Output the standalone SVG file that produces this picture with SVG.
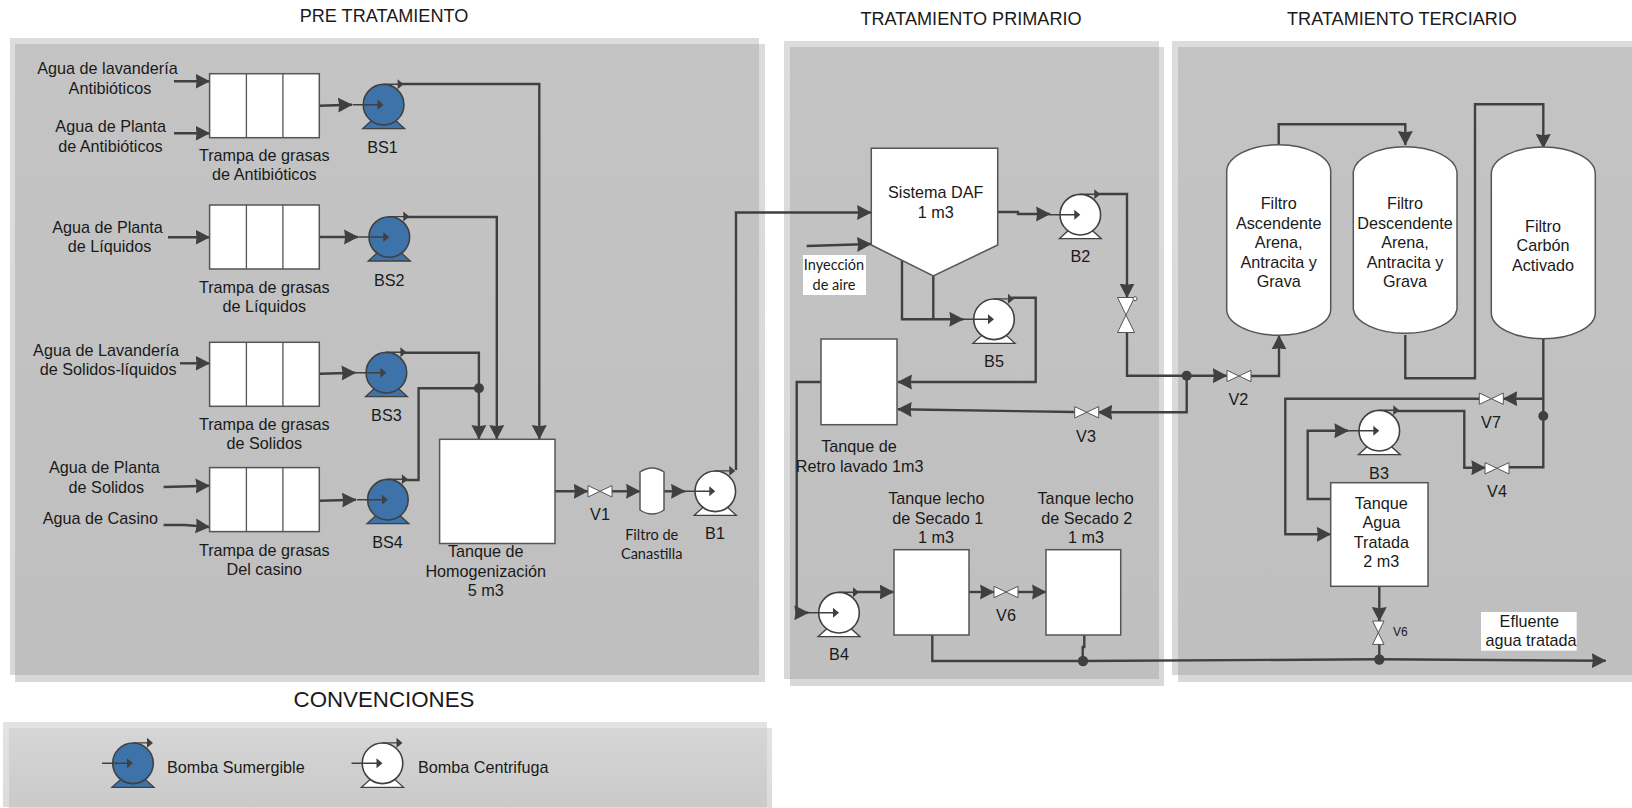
<svg xmlns="http://www.w3.org/2000/svg" width="1632" height="808" viewBox="0 0 1632 808">
<style>
text{font-family:"Liberation Sans",Arial,sans-serif;font-size:16.2px;fill:#1a1a1a;text-anchor:middle}
.c{font-family:Lato,"Open Sans",sans-serif;font-size:14.5px}
.t{font-size:18.1px}
.box{fill:#fff;stroke:#555;stroke-width:1.5}
.p{fill:none;stroke:#404040;stroke-width:2.4;stroke-linejoin:miter}
.a{marker-end:url(#big)}
.d{fill:#404040}
.v{fill:#fff;stroke:#555;stroke-width:1}
.lab{fill:#fff}
</style>
<defs>
<linearGradient id="pg" x1="0" y1="0" x2="0" y2="1"><stop offset="0" stop-color="#8e8e8e" stop-opacity=".31"/><stop offset="1" stop-color="#939393" stop-opacity=".36"/></linearGradient>
<linearGradient id="lg" x1="0" y1="0" x2="0" y2="1"><stop offset="0" stop-color="#cbcbcb" stop-opacity=".54"/><stop offset="1" stop-color="#b8b8b8" stop-opacity=".5"/></linearGradient>
<marker id="big" markerUnits="userSpaceOnUse" markerWidth="15" markerHeight="15.5" viewBox="0 0 14 14" refX="13" refY="7" orient="auto"><path d="M0 0L13.5 7L0 14L1 7Z" fill="#404040"/></marker>
<g id="pb"><path d="M-21 24L-10 14H10L21 24Z" fill="#3e73a9" stroke="#404040" stroke-width="1.3"/><circle r="20.3" fill="#3e73a9" stroke="#404040" stroke-width="1.6"/><path d="M-31 0H-4M0-20.4H15" fill="none" stroke="#404040" stroke-width="1.4"/><path d="M-6-5L0 0L-6 5ZM14-25.5L20-20.4L14-15.5Z" fill="#404040"/></g>
<g id="pw"><path d="M-21 24L-10 14H10L21 24Z" fill="#fff" stroke="#404040" stroke-width="1.3"/><circle r="20.3" fill="#fff" stroke="#404040" stroke-width="1.6"/><path d="M-31 0H-4M0-20.4H15" fill="none" stroke="#404040" stroke-width="1.4"/><path d="M-6-5L0 0L-6 5ZM14-25.5L20-20.4L14-15.5Z" fill="#404040"/></g>
<path id="vh" class="v" d="M-12-5.7L12 5.7V-5.7L-12 5.7Z"/>
<path id="vv" class="v" d="M-8.5-17.5H8.5L-8.5 17.5H8.5Z"/>
<path id="vs" class="v" d="M-5.7-11.7H5.7L-5.7 11.7H5.7Z"/>
<g id="trap"><rect class="box" x="0" y="0" width="109.7" height="64" stroke-width="1.2"/><path d="M36.8 0V64M73.3 0V64" stroke="#555" stroke-width="1.3"/></g>
</defs>

<g id="panels">
<rect x="10" y="38" width="749" height="637" fill="url(#pg)"/><rect x="15" y="44" width="750" height="638" fill="url(#pg)"/>
<rect x="784" y="41" width="375" height="638" fill="url(#pg)"/><rect x="790" y="47" width="374" height="639" fill="url(#pg)"/>
<rect x="1172" y="41" width="470" height="634" fill="url(#pg)"/><rect x="1178" y="47" width="464" height="635" fill="url(#pg)"/>
<rect x="3" y="722" width="764" height="85" fill="url(#lg)"/><rect x="9" y="728" width="763" height="84" fill="url(#lg)"/>
</g>

<g id="titles">
<text class="t" x="384" y="22">PRE TRATAMIENTO</text>
<text class="t" x="971" y="25">TRATAMIENTO PRIMARIO</text>
<text class="t" x="1402" y="25">TRATAMIENTO TERCIARIO</text>
<text x="384" y="706.5" style="font-size:22.3px">CONVENCIONES</text>
</g>

<g id="connectors">
<path class="p a" d="M174 81.3H209.5"/>
<path class="p a" d="M174 133.3H209.5"/>
<path class="p a" d="M168 237.3H209.5"/>
<path class="p a" d="M180 363.3H209.5"/>
<path class="p a" d="M163.6 487L209.5 485.7"/>
<path class="p a" d="M163.6 525H185L209.5 527"/>
<path class="p a" d="M319 105.7L352 104.7"/>
<path class="p a" d="M320 237H358"/>
<path class="p a" d="M320 373.7L355.5 372.7"/>
<path class="p a" d="M320 500.7L356 499.7"/>
<path class="p a" d="M400 84H539.3V439"/>
<path class="p a" d="M405 217H496.8V439"/>
<path class="p a" d="M403 352.7H478.9V439"/>
<path class="p" d="M404 480H418.6V388.3H478.9"/>
<circle class="d" cx="478.9" cy="388.3" r="5"/>
<path class="p a" d="M555 491.3H587.7"/>
<path class="p a" d="M611.7 491.3H640"/>
<path class="p a" d="M664 491.3H685"/>
<path class="p a" d="M736 470V212.5H871"/>
<path class="p a" d="M806.7 246L871 244"/>
<path class="p a" d="M997.7 212H1018V214H1050"/>
<path class="p a" d="M1098 194H1127V297.5"/>
<path class="p" d="M1127 333V375.7H1186.7"/>
<path class="p a" d="M1186.7 375.7H1226.7"/>
<path class="p a" d="M1186.7 375.7V412.3H1098.3"/>
<path class="p a" d="M1075 412L897.7 409.3"/>
<path class="p a" d="M902 260V319.3H963.3"/>
<path class="p" d="M933.3 276V319.3"/>
<path class="p a" d="M1012 297.7H1035.7V382H898"/>
<path class="p a" d="M821 382H796.7V612.7H808.3"/>
<path class="p a" d="M856 592H893.5"/>
<path class="p a" d="M969 592H994"/>
<path class="p a" d="M1017.7 592H1046"/>
<path class="p" d="M932.3 635V661H1083"/>
<path class="p" d="M1084.3 635V647H1082.7V661"/>
<path class="p" d="M1083 661L1379.3 659.3"/>
<path class="p a" d="M1379.3 659.3L1605.7 660.7"/>
<path class="p" d="M1379.3 644V659.3"/>
<path class="p a" d="M1379.3 586.3V621"/>
<circle class="d" cx="1186.7" cy="375.7" r="5"/>
<circle class="d" cx="1083" cy="661" r="5.2"/>
<circle class="d" cx="1379.3" cy="659.5" r="5.2"/>
<path class="p a" d="M1250.7 376H1279V335.5"/>
<path class="p a" d="M1278.7 145V124.3H1405.3V145"/>
<path class="p a" d="M1405.3 335V378.3H1475V104.3H1543.3V148"/>
<path class="p" d="M1543.3 338V467.3H1508.3"/>
<path class="p a" d="M1396 411H1464.3V467.7H1485.3"/>
<path class="p a" d="M1543.3 398.7H1503.3"/>
<path class="p a" d="M1479.3 398.7H1285.3V534.3H1330.7"/>
<path class="p a" d="M1330.7 499H1307.7V430.7H1348.3"/>
<circle class="d" cx="1543.3" cy="416" r="5"/>
</g>

<g id="T1"><use href="#trap" x="209.6" y="73.7"/><text x="264.3" y="161.3">Trampa de grasas</text><text x="264.3" y="180">de Antibióticos</text></g>
<g id="T2"><use href="#trap" x="209.6" y="205"/><text x="264.3" y="293.3">Trampa de grasas</text><text x="264.3" y="312">de Líquidos</text></g>
<g id="T3"><use href="#trap" x="209.6" y="342.3"/><text x="264.3" y="430">Trampa de grasas</text><text x="264.3" y="449.3">de Solidos</text></g>
<g id="T4"><use href="#trap" x="209.6" y="467.6"/><text x="264.3" y="556.3">Trampa de grasas</text><text x="264.3" y="575">Del casino</text></g>

<g id="inputs">
<text x="107.5" y="74">Agua de lavandería</text><text x="110" y="94.3">Antibióticos</text>
<text x="110.7" y="132.3">Agua de Planta</text><text x="110.4" y="152">de Antibióticos</text>
<text x="107.5" y="233">Agua de Planta</text><text x="109.6" y="252">de Líquidos</text>
<text x="106" y="356">Agua de Lavandería</text><text x="108.2" y="375">de Solidos-líquidos</text>
<text x="104.3" y="473.3">Agua de Planta</text><text x="106.4" y="493">de Solidos</text>
<text x="100.4" y="524">Agua de Casino</text>
</g>

<g id="BS1"><use href="#pb" x="383.6" y="104.7"/><text x="382.5" y="153.3">BS1</text></g>
<g id="BS2"><use href="#pb" x="389.3" y="237"/><text x="389.3" y="285.7">BS2</text></g>
<g id="BS3"><use href="#pb" x="386.4" y="372.7"/><text x="386.4" y="421">BS3</text></g>
<g id="BS4"><use href="#pb" x="387.9" y="499.7"/><text x="387.5" y="547.7">BS4</text></g>

<g id="TH"><rect class="box" x="439.6" y="439.3" width="115.4" height="104.2"/><text x="485.7" y="557">Tanque de</text><text x="485.7" y="577">Homogenización</text><text x="485.7" y="595.7">5 m3</text></g>
<g id="V1"><use href="#vh" x="600" y="491.3"/><text x="600" y="520">V1</text></g>
<g id="FC"><path class="box" d="M640 472Q652 464 664 472V510Q652 518 640 510Z"/><text class="c" x="651.7" y="540">Filtro de</text><text class="c" x="651.7" y="559">Canastilla</text></g>
<g id="B1"><use href="#pw" x="715.3" y="491.3"/><text x="715" y="539">B1</text></g>

<g id="DAF"><path class="box" d="M871.3 148.3V245L933.3 276L997.7 245V148.3Z"/><text x="935.7" y="198.3">Sistema DAF</text><text x="935.7" y="218">1 m3</text></g>
<g id="AIR"><rect class="lab" x="803" y="255" width="63" height="40"/><text class="c" x="834" y="270">Inyección</text><text class="c" x="834" y="290">de aire</text></g>
<g id="B2"><use href="#pw" x="1080.3" y="214.7"/><text x="1080.3" y="261.7">B2</text></g>
<g id="VA"><use href="#vv" x="1126" y="315"/><circle cx="1135" cy="298.7" r="2" fill="#fff" stroke="#555"/></g>
<g id="B5"><use href="#pw" x="994" y="319.3"/><text x="994" y="366.7">B5</text></g>
<g id="V3"><use href="#vh" x="1086.7" y="412.3"/><text x="1086" y="441.7">V3</text></g>
<g id="TR"><rect class="box" x="821" y="339" width="76" height="85.7"/><text x="859" y="451.7">Tanque de</text><text x="859.7" y="471.7">Retro lavado 1m3</text></g>
<g id="B4"><use href="#pw" x="839" y="612.7"/><text x="839" y="660">B4</text></g>
<g id="TS1"><rect class="box" x="894" y="549.7" width="75" height="85.3"/><text x="936.3" y="504.3">Tanque lecho</text><text x="937.7" y="524">de Secado 1</text><text x="936" y="543.3">1 m3</text></g>
<g id="V6a"><use href="#vh" x="1006" y="592"/><text x="1006" y="621">V6</text></g>
<g id="TS2"><rect class="box" x="1046" y="549.7" width="74.7" height="85.3"/><text x="1085.7" y="504.3">Tanque lecho</text><text x="1086.7" y="524">de Secado 2</text><text x="1086" y="543.3">1 m3</text></g>

<g id="F1"><path class="box" d="M1226.7 171.7A52 27 0 0 1 1330.7 171.7V309.3A52 26 0 0 1 1226.7 309.3Z"/><text x="1278.7" y="209">Filtro</text><text x="1278.7" y="229">Ascendente</text><text x="1278.7" y="248.3">Arena,</text><text x="1278.7" y="267.7">Antracita y</text><text x="1278.7" y="287">Grava</text></g>
<g id="F2"><path class="box" d="M1353.3 171.7A52 27 0 0 1 1457 171.7V309.3A52 26 0 0 1 1353.3 309.3Z"/><text x="1405" y="209">Filtro</text><text x="1405" y="229">Descendente</text><text x="1405" y="248.3">Arena,</text><text x="1405" y="267.7">Antracita y</text><text x="1405" y="287">Grava</text></g>
<g id="F3"><path class="box" d="M1491.3 174A52 27 0 0 1 1595.3 174V312.7A52 26 0 0 1 1491.3 312.7Z"/><text x="1543" y="232">Filtro</text><text x="1543" y="251">Carbón</text><text x="1543" y="271">Activado</text></g>
<g id="V2"><use href="#vh" x="1239" y="376"/><text x="1238.3" y="405">V2</text></g>
<g id="V7"><use href="#vh" x="1491.3" y="398.7"/><text x="1491" y="428">V7</text></g>
<g id="V4"><use href="#vh" x="1497" y="468.3"/><text x="1497" y="496.7">V4</text></g>
<g id="B3"><use href="#pw" x="1379.3" y="430.7"/><text x="1379" y="479">B3</text></g>
<g id="TA"><rect class="box" x="1330.7" y="482.7" width="97.3" height="103.6"/><text x="1381.3" y="509">Tanque</text><text x="1381.3" y="528.3">Agua</text><text x="1381.3" y="548">Tratada</text><text x="1381.3" y="567">2 m3</text></g>
<g id="V6b"><use href="#vs" x="1378.3" y="632.7"/><text x="1400.3" y="636" style="font-size:12px">V6</text></g>
<g id="EF"><rect class="lab" x="1481" y="612" width="95.7" height="38.7"/><text x="1529.3" y="627">Efluente</text><text x="1531" y="646.3">agua tratada</text></g>

<g id="legend">
<use href="#pb" x="133" y="763.3"/><text x="167" y="773" style="text-anchor:start">Bomba Sumergible</text>
<use href="#pw" x="382.5" y="763.3"/><text x="418" y="773" style="text-anchor:start">Bomba Centrifuga</text>
</g>
</svg>
